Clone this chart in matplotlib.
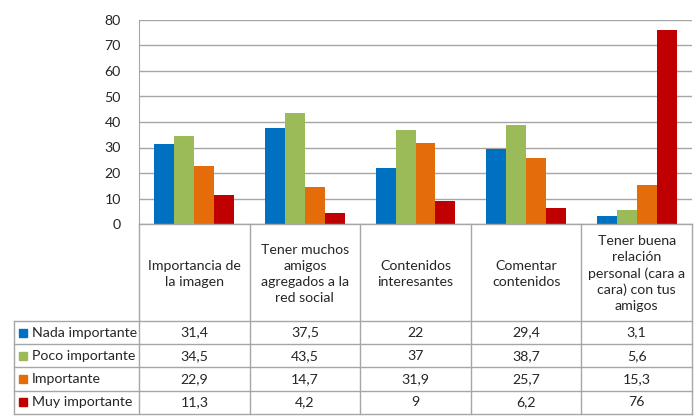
import matplotlib
matplotlib.use("Agg")
import matplotlib.pyplot as plt
from matplotlib.patches import Rectangle

categorias = [
    "Importancia de\nla imagen",
    "Tener muchos\namigos\nagregados a la\nred social",
    "Contenidos\ninteresantes",
    "Comentar\ncontenidos",
    "Tener buena\nrelación\npersonal (cara a\ncara) con tus\namigos",
]
series = ["Nada importante", "Poco importante", "Importante", "Muy importante"]
nada = [31.4, 37.5, 22, 29.4, 3.1]
poco = [34.5, 43.5, 37, 38.7, 5.6]
importante = [22.9, 14.7, 31.9, 25.7, 15.3]
muy = [11.3, 4.2, 9, 6.2, 76]
valores = [nada, poco, importante, muy]
colores = ["#0070c0", "#9bbb59", "#e46c0a", "#c00000"]

W, H = 699, 420
fig = plt.figure(figsize=(W / 100, H / 100), dpi=100)
plt.rcParams["font.family"] = ["Lato", "DejaVu Sans"]
fs = 10.2
txt = "#262626"
grid = "#a6a6a6"

# plot area in pixel coords
x0, x1 = 139, 692
y_top, y_zero = 20, 224
ax = fig.add_axes([x0 / W, 1 - y_zero / H, (x1 - x0) / W, (y_zero - y_top) / H])
n = len(categorias)
bw = 0.18
for k, (vals, col) in enumerate(zip(valores, colores)):
    xs = [i + 0.5 + (k - 1.5) * bw for i in range(n)]
    ax.bar(xs, vals, width=bw, color=col, zorder=3)
ax.set_xlim(0, n)
ax.set_ylim(0, 80)
ax.set_yticks(range(0, 81, 10))
ax.set_xticks([])
ax.grid(axis="y", color=grid, lw=1, zorder=0)
for s in ["top", "right", "bottom"]:
    ax.spines[s].set_visible(False)
ax.spines["left"].set_color(grid)
ax.tick_params(axis="y", length=0, pad=13, labelsize=fs, labelcolor=txt)

# data table below the plot
tab = fig.add_axes([0, 0, 1, 1])
tab.set_xlim(0, W)
tab.set_ylim(H, 0)
tab.axis("off")
colw = (x1 - x0) / n
head_bot = 321
row_h = 23.2
left = 14
rows_bot = head_bot + row_h * len(series)

lk = dict(color=grid, lw=1)
tab.plot([x0, x1], [y_zero, y_zero], **lk)
for i in range(n + 1):
    tab.plot([x0 + i * colw] * 2, [y_zero, rows_bot], **lk)
tab.plot([left, left], [head_bot, rows_bot], **lk)
for r in range(len(series) + 1):
    tab.plot([left, x1], [head_bot + r * row_h] * 2, **lk)

for i, cat in enumerate(categorias):
    tab.text(x0 + (i + 0.5) * colw, (y_zero + head_bot) / 2 + 1, cat,
             ha="center", va="center", fontsize=fs, color=txt, linespacing=1.4)

for r, (name, vals, col) in enumerate(zip(series, valores, colores)):
    yc = head_bot + (r + 0.5) * row_h
    tab.add_patch(Rectangle((19, yc - 4), 8, 8, color=col))
    tab.text(31.5, yc, name, ha="left", va="center", fontsize=fs, color=txt)
    for i, v in enumerate(vals):
        s = f"{v:g}".replace(".", ",")
        tab.text(x0 + (i + 0.5) * colw, yc, s, ha="center", va="center",
                 fontsize=fs, color=txt)

fig.savefig("out.png", dpi=100)
